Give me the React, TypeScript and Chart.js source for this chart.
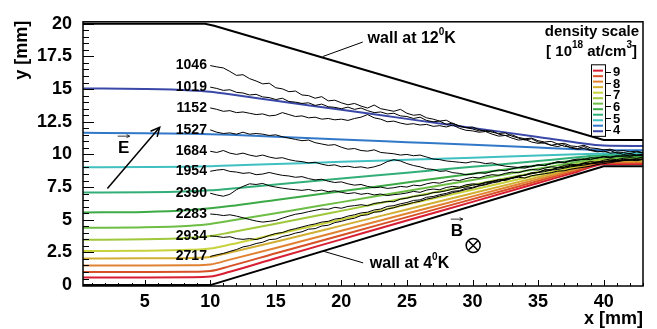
import React, { useEffect, useRef } from 'react';
import { Chart, registerables } from 'chart.js';

Chart.register(...registerables);

const FONT = "'Liberation Sans', Arial, Helvetica, sans-serif";

// axis tick labels
const X_TICKS = [5, 10, 15, 20, 25, 30, 35, 40];
const Y_TICKS = [0, 2.5, 5, 7.5, 10, 12.5, 15, 17.5, 20];

// walls
const WALL_TOP_X = [0.3, 9.6, 10.3, 40, 43];
const WALL_TOP_Y = [20, 20, 19.85, 11.1, 11.1];
const WALL_BOTTOM_X = [0.3, 10, 40, 43];
const WALL_BOTTOM_Y = [0, 0, 9.1, 9.1];

// density contour lines (shared x)
const CONTOUR_X = [0.3, 5, 8.5, 10, 11.5, 15, 20, 25, 30, 35, 38, 40, 43];
const C_DARKBLUE = [15.05, 15.0, 14.9, 14.8, 14.6, 14.1, 13.42, 12.72, 12.03, 11.34, 10.9, 10.68, 10.65];
const C_BLUE = [11.65, 11.62, 11.58, 11.55, 11.5, 11.35, 11.14, 10.94, 10.74, 10.53, 10.4, 10.34, 10.32];
const C_CYAN = [9.02, 9.03, 9.06, 9.1, 9.15, 9.26, 9.43, 9.59, 9.75, 9.91, 10.01, 10.08, 10.1];
const C_TEAL = [7.08, 7.1, 7.18, 7.25, 7.38, 7.7, 8.15, 8.6, 9.05, 9.5, 9.78, 9.95, 9.97];
const C_GREEN = [5.56, 5.6, 5.75, 5.88, 6.05, 6.52, 7.18, 7.85, 8.52, 9.18, 9.58, 9.85, 9.87];
const C_LGREEN = [4.38, 4.42, 4.55, 4.68, 4.92, 5.5, 6.35, 7.2, 8.05, 8.9, 9.42, 9.75, 9.77];
const C_YG = [3.47, 3.5, 3.62, 3.75, 4.02, 4.69, 5.68, 6.68, 7.67, 8.66, 9.26, 9.65, 9.67];
const C_YG2 = [2.6, 2.62, 2.7, 2.8, 3.1, 3.89, 5.02, 6.16, 7.3, 8.43, 9.11, 9.57, 9.58];
const C_GOLD = [2.04, 2.05, 2.08, 2.15, 2.5, 3.32, 4.55, 5.79, 7.03, 8.26, 9.0, 9.5, 9.51];
const C_ORANGE = [1.5, 1.5, 1.52, 1.58, 1.95, 2.84, 4.16, 5.48, 6.79, 8.11, 8.9, 9.43, 9.44];
const C_ORED = [1.01, 1.01, 1.02, 1.08, 1.45, 2.43, 3.82, 5.2, 6.58, 7.97, 8.8, 9.35, 9.36];
const C_RED = [0.59, 0.59, 0.6, 0.65, 1.02, 2.06, 3.5, 4.94, 6.37, 7.81, 8.68, 9.25, 9.26];

const CONTOURS = [C_DARKBLUE, C_BLUE, C_CYAN, C_TEAL, C_GREEN, C_LGREEN, C_YG, C_YG2, C_GOLD, C_ORANGE, C_ORED, C_RED];
const CONTOUR_COLORS = ['#3a48a8', '#3278c8', '#40c0c0', '#32af78', '#3caa46', '#6ebe46', '#a0c83c', '#c8d23c', '#d2af32', '#e18232', '#d75028', '#d71e32'];

// legend colour bar
const LEGEND_STRIPES = [9.1, 8.62, 8.15, 7.67, 7.19, 6.71, 6.24, 5.76, 5.28, 4.8, 4.33, 3.85];
const LEGEND_TICKS = [9, 8, 7, 6, 5, 4];

// trajectories (shared x)
const TRACK_X = [10, 10.5, 11, 11.5, 12, 12.5, 13, 13.5, 14, 14.5, 15, 15.5, 16, 16.5, 17, 17.5, 18, 18.5, 19, 19.5, 20, 20.5, 21, 21.5, 22, 22.5, 23, 23.5, 24, 24.5, 25, 25.5, 26, 26.5, 27, 27.5, 28, 28.5, 29, 29.5, 30, 30.5, 31, 31.5, 32, 32.5, 33, 33.5, 34, 34.5, 35, 35.5, 36, 36.5, 37, 37.5, 38, 38.5, 39, 39.5, 40, 40.5, 41, 41.5, 42, 42.5, 43];

const T1046 = [16.80, 16.70, 16.62, 16.35, 16.05, 16.10, 15.80, 15.62, 15.40, 15.45,
  15.10, 15.02, 14.80, 14.85, 14.55, 14.50, 14.30, 14.42, 14.10, 14.15,
  13.95, 13.80, 13.90, 13.70, 13.55, 13.78, 13.50, 13.40, 13.30, 13.45,
  13.15, 13.00, 13.05, 12.80, 12.70, 12.55, 12.62, 12.35, 12.20, 12.05,
  11.95, 11.80, 11.85, 11.70, 11.60, 11.65, 11.40, 11.25, 11.10, 11.20,
  10.95, 10.85, 10.70, 10.80, 10.62, 10.55, 10.45, 10.60, 10.35, 10.25,
  10.20, 10.30, 10.10, 10.15, 10.05, 10.20, 10.10];
const T1019 = [15.15, 15.05, 14.90, 14.95, 14.75, 14.70, 14.55, 14.60, 14.40, 14.35,
  14.20, 14.30, 14.05, 14.00, 13.90, 13.95, 13.75, 13.85, 13.65, 13.60,
  13.50, 13.62, 13.45, 13.55, 13.35, 13.20, 13.25, 13.10, 13.15, 12.95,
  12.90, 12.75, 12.85, 12.60, 12.50, 12.55, 12.30, 12.40, 12.15, 12.05,
  12.10, 11.90, 11.75, 11.80, 11.55, 11.45, 11.50, 11.30, 11.20, 11.25,
  11.05, 10.95, 11.00, 10.80, 10.85, 10.65, 10.60, 10.70, 10.50, 10.45,
  10.35, 10.40, 10.25, 10.30, 10.20, 10.25, 10.15];
const T1152 = [13.56, 13.45, 13.30, 13.35, 13.20, 13.25, 13.15, 13.05, 13.10, 12.95,
  13.00, 13.20, 13.05, 12.90, 12.95, 12.80, 12.85, 12.70, 12.75, 12.65,
  12.70, 12.60, 12.75, 12.85, 13.05, 12.80, 12.70, 12.50, 12.55, 12.40,
  12.30, 12.35, 12.25, 12.30, 12.15, 12.20, 12.10, 12.25, 12.00, 11.85,
  11.80, 11.70, 11.75, 11.55, 11.40, 11.45, 11.25, 11.10, 11.15, 10.95,
  10.85, 10.90, 10.70, 10.60, 10.75, 10.50, 10.40, 10.45, 10.30, 10.20,
  10.25, 10.10, 10.15, 10.00, 10.05, 9.95, 10.00];
const T1527 = [11.88, 11.70, 11.60, 11.65, 11.55, 11.70, 11.55, 11.60, 11.55, 11.45,
  11.50, 11.35, 11.25, 11.15, 11.05, 11.10, 10.90, 10.80, 10.70, 10.75,
  10.55, 10.40, 10.45, 10.30, 10.25, 10.35, 10.15, 10.10, 10.05, 9.95,
  10.00, 9.90, 9.95, 9.80, 9.65, 9.60, 9.50, 9.45, 9.40, 9.35,
  9.45, 9.40, 9.30, 9.35, 9.20, 9.10, 9.05, 9.00, 9.10, 9.05,
  9.20, 9.15, 9.30, 9.45, 9.40, 9.55, 9.65, 9.60, 9.75, 9.70,
  9.85, 9.80, 9.90, 9.85, 9.95, 9.90, 10.00];
const T1684 = [10.24, 10.15, 10.30, 10.10, 10.00, 10.10, 9.95, 9.85, 9.95, 9.80,
  9.70, 9.75, 9.60, 9.50, 9.45, 9.35, 9.40, 9.25, 9.15, 9.20,
  9.05, 9.10, 9.00, 9.05, 8.95, 9.05, 9.20, 9.45, 9.60, 9.50,
  9.30, 9.15, 9.05, 8.90, 8.85, 8.70, 8.75, 8.60, 8.55, 8.45,
  8.50, 8.60, 8.55, 8.70, 8.80, 8.75, 8.90, 9.00, 8.95, 9.10,
  9.20, 9.15, 9.30, 9.40, 9.35, 9.50, 9.55, 9.65, 9.60, 9.75,
  9.80, 9.75, 9.85, 9.90, 9.85, 9.95, 9.90];
const T1954 = [8.71, 8.80, 8.85, 8.70, 8.65, 8.55, 8.60, 8.45, 8.50, 8.62,
  8.50, 8.40, 8.35, 8.25, 8.30, 8.15, 8.05, 8.10, 7.95, 7.85,
  7.90, 7.75, 7.65, 7.70, 7.55, 7.45, 7.50, 7.40, 7.45, 7.55,
  7.50, 7.65, 7.60, 7.75, 7.85, 7.80, 7.95, 8.05, 8.00, 8.15,
  8.25, 8.20, 8.35, 8.45, 8.40, 8.55, 8.65, 8.60, 8.75, 8.85,
  8.80, 8.95, 9.05, 9.00, 9.15, 9.25, 9.20, 9.35, 9.45, 9.40,
  9.55, 9.65, 9.60, 9.70, 9.75, 9.70, 9.80];
const T2390 = [7.03, 6.90, 6.80, 6.95, 7.30, 7.55, 7.75, 7.70, 7.78, 7.60,
  7.50, 7.42, 7.35, 7.30, 7.25, 7.32, 7.20, 7.27, 7.15, 7.22,
  7.10, 7.00, 7.07, 6.95, 7.02, 6.90, 6.97, 6.85, 6.92, 6.97,
  7.05, 7.17, 7.10, 7.27, 7.35, 7.30, 7.47, 7.55, 7.50, 7.67,
  7.75, 7.70, 7.87, 7.95, 8.05, 8.00, 8.17, 8.25, 8.20, 8.37,
  8.45, 8.52, 8.60, 8.72, 8.75, 8.87, 8.95, 9.02, 9.10, 9.22,
  9.30, 9.37, 9.45, 9.52, 9.55, 9.62, 9.65];
const T2283 = [5.44, 5.40, 5.32, 5.38, 5.28, 5.15, 5.02, 4.90, 4.82, 4.88,
  4.95, 5.12, 5.28, 5.42, 5.50, 5.62, 5.72, 5.82, 5.80, 5.95,
  5.88, 6.02, 6.08, 6.15, 6.08, 6.25, 6.32, 6.40, 6.38, 6.58,
  6.65, 6.78, 6.85, 6.92, 7.08, 7.12, 7.22, 7.35, 7.42, 7.52,
  7.65, 7.72, 7.82, 7.92, 8.05, 8.10, 8.22, 8.35, 8.40, 8.52,
  8.62, 8.68, 8.80, 8.85, 8.95, 9.05, 9.12, 9.18, 9.28, 9.32,
  9.40, 9.45, 9.48, 9.55, 9.60, 9.55, 9.65];
const T2934 = [3.76, 3.72, 3.65, 3.70, 3.55, 3.50, 3.56, 3.48, 3.62, 3.80,
  3.95, 4.02, 4.20, 4.32, 4.45, 4.58, 4.68, 4.82, 4.88, 5.05,
  5.12, 5.28, 5.38, 5.52, 5.58, 5.75, 5.82, 6.02, 6.08, 6.22,
  6.32, 6.48, 6.52, 6.72, 6.78, 6.92, 7.02, 7.18, 7.22, 7.42,
  7.48, 7.62, 7.72, 7.88, 7.92, 8.12, 8.18, 8.32, 8.42, 8.58,
  8.62, 8.80, 8.82, 8.98, 9.02, 9.12, 9.18, 9.28, 9.30, 9.42,
  9.45, 9.52, 9.52, 9.62, 9.58, 9.65, 9.60];
const T2717 = [2.19, 2.32, 2.42, 2.58, 2.72, 2.92, 3.02, 3.18, 3.28, 3.48,
  3.52, 3.72, 3.82, 3.98, 4.08, 4.28, 4.32, 4.52, 4.58, 4.78,
  4.88, 5.02, 5.12, 5.32, 5.38, 5.58, 5.62, 5.82, 5.92, 6.08,
  6.18, 6.32, 6.42, 6.58, 6.68, 6.82, 6.92, 7.08, 7.18, 7.32,
  7.42, 7.58, 7.68, 7.82, 7.92, 8.08, 8.18, 8.32, 8.42, 8.58,
  8.62, 8.82, 8.82, 8.98, 9.02, 9.18, 9.18, 9.32, 9.32, 9.42,
  9.42, 9.52, 9.52, 9.55, 9.58, 9.52, 9.60];

const TRACKS = [T1046, T1019, T1152, T1527, T1684, T1954, T2390, T2283, T2934, T2717];
const TRACK_LABELS = ['1046', '1019', '1152', '1527', '1684', '1954', '2390', '2283', '2934', '2717'];

// annotation anchors (data coordinates)
const E_ARROW = [[2.16, 7.4], [6.15, 12.08]];
const E_LABEL = [3.4, 10.48];
const B_LABEL = [28.8, 4.13];
const B_CROSS = [30.05, 3.03];
const WALL12_TEXT = [22.0, 18.84];
const WALL12_LEADER = [[21.63, 18.6], [18.58, 17.49]];
const WALL4_TEXT = [22.17, 1.62];
const WALL4_LEADER = [[21.66, 1.7], [18.6, 2.6]];

const toPts = (xs: number[], ys: number[]) => xs.map((x, i) => ({ x, y: ys[i] }));

function supText(ctx: CanvasRenderingContext2D, parts: [string, boolean][], x: number, y: number, size: number, align: 'left' | 'right') {
  const big = `bold ${size}px ${FONT}`;
  const small = `bold ${Math.round(size * 0.65)}px ${FONT}`;
  let total = 0;
  for (const [t, s] of parts) { ctx.font = s ? small : big; total += ctx.measureText(t).width; }
  let cx = align === 'left' ? x : x - total;
  ctx.textAlign = 'left';
  ctx.textBaseline = 'middle';
  for (const [t, s] of parts) {
    ctx.font = s ? small : big;
    ctx.fillText(t, cx, s ? y - size * 0.42 : y);
    cx += ctx.measureText(t).width;
  }
}

function arrowHead(ctx: CanvasRenderingContext2D, x1: number, y1: number, x2: number, y2: number, size: number) {
  const a = Math.atan2(y2 - y1, x2 - x1);
  ctx.beginPath();
  ctx.moveTo(x2 - size * Math.cos(a - 0.45), y2 - size * Math.sin(a - 0.45));
  ctx.lineTo(x2, y2);
  ctx.lineTo(x2 - size * Math.cos(a + 0.45), y2 - size * Math.sin(a + 0.45));
  ctx.stroke();
}

function vecLetter(ctx: CanvasRenderingContext2D, letter: string, px: number, py: number) {
  ctx.font = `bold 17px ${FONT}`;
  ctx.textAlign = 'center';
  ctx.textBaseline = 'middle';
  ctx.fillText(letter, px, py);
  ctx.lineWidth = 0.8;
  ctx.beginPath();
  ctx.moveTo(px - 6, py - 12);
  ctx.lineTo(px + 6, py - 12);
  ctx.stroke();
  arrowHead(ctx, px - 6, py - 12, px + 6, py - 12, 3.5);
}

const overlay = {
  id: 'overlay',
  afterDatasetsDraw(chart: any) {
    const { ctx, chartArea: ca, scales } = chart;
    const xs = scales.x, ys = scales.y;
    const px = (v: number) => xs.getPixelForValue(v);
    const py = (v: number) => ys.getPixelForValue(v);
    ctx.save();
    ctx.fillStyle = '#000';
    ctx.strokeStyle = '#000';

    // frame
    ctx.lineWidth = 1.5;
    ctx.strokeRect(ca.left, ca.top, ca.right - ca.left, ca.bottom - ca.top);

    // inward ticks
    ctx.lineWidth = 1;
    ctx.beginPath();
    for (let i = 0; i <= 40; i++) {
      const v = i * 0.5;
      const len = i % 5 === 0 ? 11 : 6;
      const y = Math.round(py(v)) + 0.5;
      ctx.moveTo(ca.left, y);
      ctx.lineTo(ca.left + len, y);
    }
    for (let i = 1; i <= 43; i++) {
      const len = i % 5 === 0 ? 6 : 3;
      const x = Math.round(px(i)) + 0.5;
      ctx.moveTo(x, ca.bottom);
      ctx.lineTo(x, ca.bottom - len);
    }
    ctx.stroke();

    // axis titles
    ctx.font = `bold 18px ${FONT}`;
    ctx.textBaseline = 'middle';
    ctx.textAlign = 'right';
    ctx.fillText('x [mm]', ca.right, 319);
    ctx.save();
    ctx.translate(22, ca.top - 1);
    ctx.rotate(-Math.PI / 2);
    ctx.textAlign = 'right';
    ctx.fillText('y [mm]', 0, 0);
    ctx.restore();

    // track labels
    ctx.font = `bold 14px ${FONT}`;
    ctx.textAlign = 'right';
    ctx.textBaseline = 'middle';
    TRACKS.forEach((t, i) => {
      ctx.fillText(TRACK_LABELS[i], px(9.75), py(t[0]));
    });

    // wall annotations
    ctx.lineWidth = 1;
    ctx.beginPath();
    ctx.moveTo(px(WALL12_LEADER[0][0]), py(WALL12_LEADER[0][1]));
    ctx.lineTo(px(WALL12_LEADER[1][0]), py(WALL12_LEADER[1][1]));
    ctx.moveTo(px(WALL4_LEADER[0][0]), py(WALL4_LEADER[0][1]));
    ctx.lineTo(px(WALL4_LEADER[1][0]), py(WALL4_LEADER[1][1]));
    ctx.stroke();
    supText(ctx, [['wall at 12', false], ['0', true], ['K', false]], px(WALL12_TEXT[0]), py(WALL12_TEXT[1]), 16, 'left');
    supText(ctx, [['wall at 4', false], ['0', true], ['K', false]], px(WALL4_TEXT[0]), py(WALL4_TEXT[1]), 16, 'left');

    // E arrow
    ctx.lineWidth = 1.5;
    const ex1 = px(E_ARROW[0][0]), ey1 = py(E_ARROW[0][1]);
    const ex2 = px(E_ARROW[1][0]), ey2 = py(E_ARROW[1][1]);
    ctx.beginPath();
    ctx.moveTo(ex1, ey1);
    ctx.lineTo(ex2, ey2);
    ctx.stroke();
    arrowHead(ctx, ex1, ey1, ex2, ey2, 10);
    vecLetter(ctx, 'E', px(E_LABEL[0]), py(E_LABEL[1]));
    vecLetter(ctx, 'B', px(B_LABEL[0]), py(B_LABEL[1]));

    // otimes
    const bx = px(B_CROSS[0]), by = py(B_CROSS[1]);
    ctx.lineWidth = 1.5;
    ctx.beginPath();
    ctx.arc(bx, by, 7, 0, Math.PI * 2);
    ctx.stroke();
    const d = 7 * Math.SQRT1_2;
    ctx.beginPath();
    ctx.moveTo(bx - d, by - d); ctx.lineTo(bx + d, by + d);
    ctx.moveTo(bx + d, by - d); ctx.lineTo(bx - d, by + d);
    ctx.stroke();

    // density legend
    ctx.font = `bold 15px ${FONT}`;
    ctx.textAlign = 'right';
    ctx.textBaseline = 'middle';
    ctx.fillText('density scale', ca.right - 4, ca.top + 10);
    supText(ctx, [['[ 10', false], ['18', true], [' at/cm', false], ['3', true], [']', false]], ca.right - 6, ca.top + 30, 15, 'right');

    const lgY = (v: number) => ca.top + 50 + (9 - v) * 11.54;
    const boxL = ca.right - 52, boxW = 14;
    const boxT = lgY(9.65), boxB = lgY(3.45);
    ctx.fillStyle = '#fff';
    ctx.fillRect(boxL, boxT, boxW, boxB - boxT);
    ctx.lineWidth = 2;
    LEGEND_STRIPES.forEach((v, i) => {
      ctx.strokeStyle = CONTOUR_COLORS[CONTOUR_COLORS.length - 1 - i];
      ctx.beginPath();
      ctx.moveTo(boxL + 2, lgY(v));
      ctx.lineTo(boxL + boxW - 2, lgY(v));
      ctx.stroke();
    });
    ctx.strokeStyle = '#000';
    ctx.lineWidth = 1;
    ctx.strokeRect(boxL + 0.5, boxT + 0.5, boxW, boxB - boxT);
    ctx.fillStyle = '#000';
    ctx.font = `bold 13px ${FONT}`;
    ctx.textAlign = 'left';
    ctx.beginPath();
    LEGEND_TICKS.forEach((v) => {
      const y = Math.round(lgY(v)) + 0.5;
      ctx.moveTo(boxL + boxW, y);
      ctx.lineTo(boxL + boxW + 6, y);
      ctx.fillText(String(v), boxL + boxW + 8, lgY(v) + 1);
    });
    ctx.stroke();

    ctx.restore();
  },
};

export default function App() {
  const ref = useRef<HTMLCanvasElement>(null);
  useEffect(() => {
    document.body.style.margin = '0';
    const datasets: any[] = [];
    datasets.push({ data: toPts(WALL_TOP_X, WALL_TOP_Y), borderColor: '#000', borderWidth: 2, order: 0 });
    datasets.push({ data: toPts(WALL_BOTTOM_X, WALL_BOTTOM_Y), borderColor: '#000', borderWidth: 2, order: 0 });
    TRACKS.forEach((t) => {
      datasets.push({ data: toPts(TRACK_X, t), borderColor: '#000', borderWidth: 1, order: 1 });
    });
    CONTOURS.forEach((c, i) => {
      datasets.push({ data: toPts(CONTOUR_X, c), borderColor: CONTOUR_COLORS[i], borderWidth: 2, order: 2, cubicInterpolationMode: 'monotone' });
    });
    datasets.forEach((d) => { d.showLine = true; d.pointRadius = 0; d.fill = false; });

    const tickFont = { family: FONT, size: 18, weight: 'bold' as const };
    const chart = new Chart(ref.current!, {
      type: 'scatter',
      data: { datasets },
      options: {
        animation: false,
        responsive: false,
        devicePixelRatio: 1,
        events: [],
        layout: { padding: { top: 14, right: 14, left: 0, bottom: 0 } },
        plugins: { legend: { display: false }, tooltip: { enabled: false } },
        scales: {
          x: {
            type: 'linear', min: 0.3, max: 43,
            grid: { display: false, drawTicks: false }, border: { display: false },
            afterFit: (s: any) => { s.height = 43; },
            afterBuildTicks: (s: any) => { s.ticks = X_TICKS.map((v) => ({ value: v })); },
            ticks: { font: tickFont, color: '#000', padding: 5, autoSkip: false, maxRotation: 0, callback: (v: any) => String(v) },
          },
          y: {
            type: 'linear', min: -0.07, max: 20.15,
            grid: { display: false, drawTicks: false }, border: { display: false },
            afterFit: (s: any) => { s.width = 83; },
            afterBuildTicks: (s: any) => { s.ticks = Y_TICKS.map((v) => ({ value: v })); },
            ticks: { font: tickFont, color: '#000', padding: 11, autoSkip: false, callback: (v: any) => String(v) },
          },
        },
      },
      plugins: [overlay],
    });
    return () => chart.destroy();
  }, []);
  return (
    <div style={{ position: 'absolute', left: 0, top: 0, width: 657, height: 329, background: '#fff' }}>
      <canvas ref={ref} width={657} height={329} style={{ width: 657, height: 329, display: 'block' }} />
    </div>
  );
}
